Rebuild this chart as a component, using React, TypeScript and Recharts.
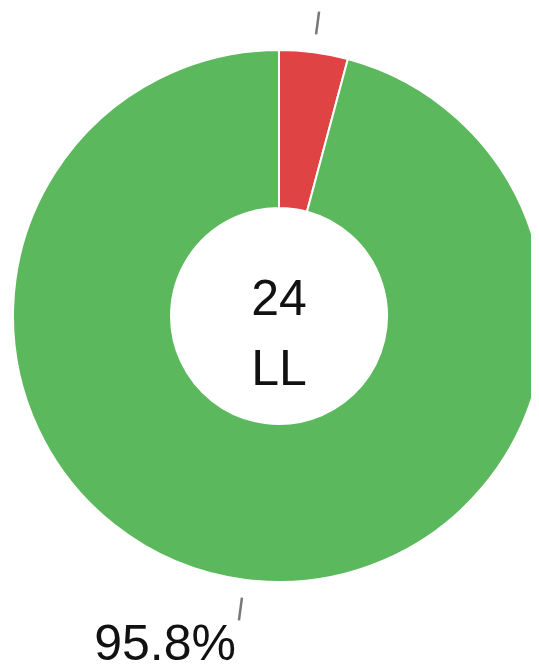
import React from 'react';
import { PieChart, Pie, Cell } from 'recharts';

const categories = ['Failed', 'Passed'];
const counts = [1, 23];
const sliceColors = ['#e04343', '#5cb85c'];
const totalLabel = '24';
const unitLabel = 'LL';

const data = categories.map((name, i) => ({ name, value: counts[i] }));

const RADIAN = Math.PI / 180;

// short grey tick outside the ring plus the percentage text beyond it
const renderLabel = (props: any) => {
  const { cx, cy, midAngle, outerRadius, percent, index } = props;
  const cos = Math.cos(-midAngle * RADIAN);
  const sin = Math.sin(-midAngle * RADIAN);
  const r1 = outerRadius + 18;
  const r2 = outerRadius + 41;
  const rt = outerRadius + 64;
  const tx = cx + rt * cos;
  const ty = cy + rt * sin;
  return (
    <g key={`lbl-${index}`}>
      <line
        x1={cx + r1 * cos}
        y1={cy + r1 * sin}
        x2={cx + r2 * cos}
        y2={cy + r2 * sin}
        stroke="#777"
        strokeWidth={2.5}
      />
      <text
        x={tx}
        y={ty}
        textAnchor={cos >= 0 ? 'start' : 'end'}
        dominantBaseline="central"
        fill="#111"
        fontSize={50}
        fontFamily="'Liberation Sans', Arial, sans-serif"
      >
        {(percent * 100).toFixed(1)}%
      </text>
    </g>
  );
};

const App: React.FC = () => {
  return (
    <div style={{ width: 531, height: 658, background: '#fff' }}>
      <PieChart width={531} height={658} margin={{ top: 0, right: 0, bottom: 0, left: 0 }}>
        <Pie
          data={data}
          dataKey="value"
          nameKey="name"
          cx={271}
          cy={308}
          innerRadius={108}
          outerRadius={266}
          startAngle={90}
          endAngle={-270}
          stroke="#fff"
          strokeWidth={2}
          label={renderLabel}
          labelLine={false}
          isAnimationActive={false}
        >
          {data.map((d, i) => (
            <Cell key={d.name} fill={sliceColors[i]} />
          ))}
        </Pie>
        <text
          x={271}
          y={307}
          textAnchor="middle"
          fill="#111"
          fontSize={50}
          fontFamily="'Liberation Sans', Arial, sans-serif"
        >
          {totalLabel}
        </text>
        <text
          x={271}
          y={377}
          textAnchor="middle"
          fill="#111"
          fontSize={50}
          fontFamily="'Liberation Sans', Arial, sans-serif"
        >
          {unitLabel}
        </text>
      </PieChart>
    </div>
  );
};

export default App;
